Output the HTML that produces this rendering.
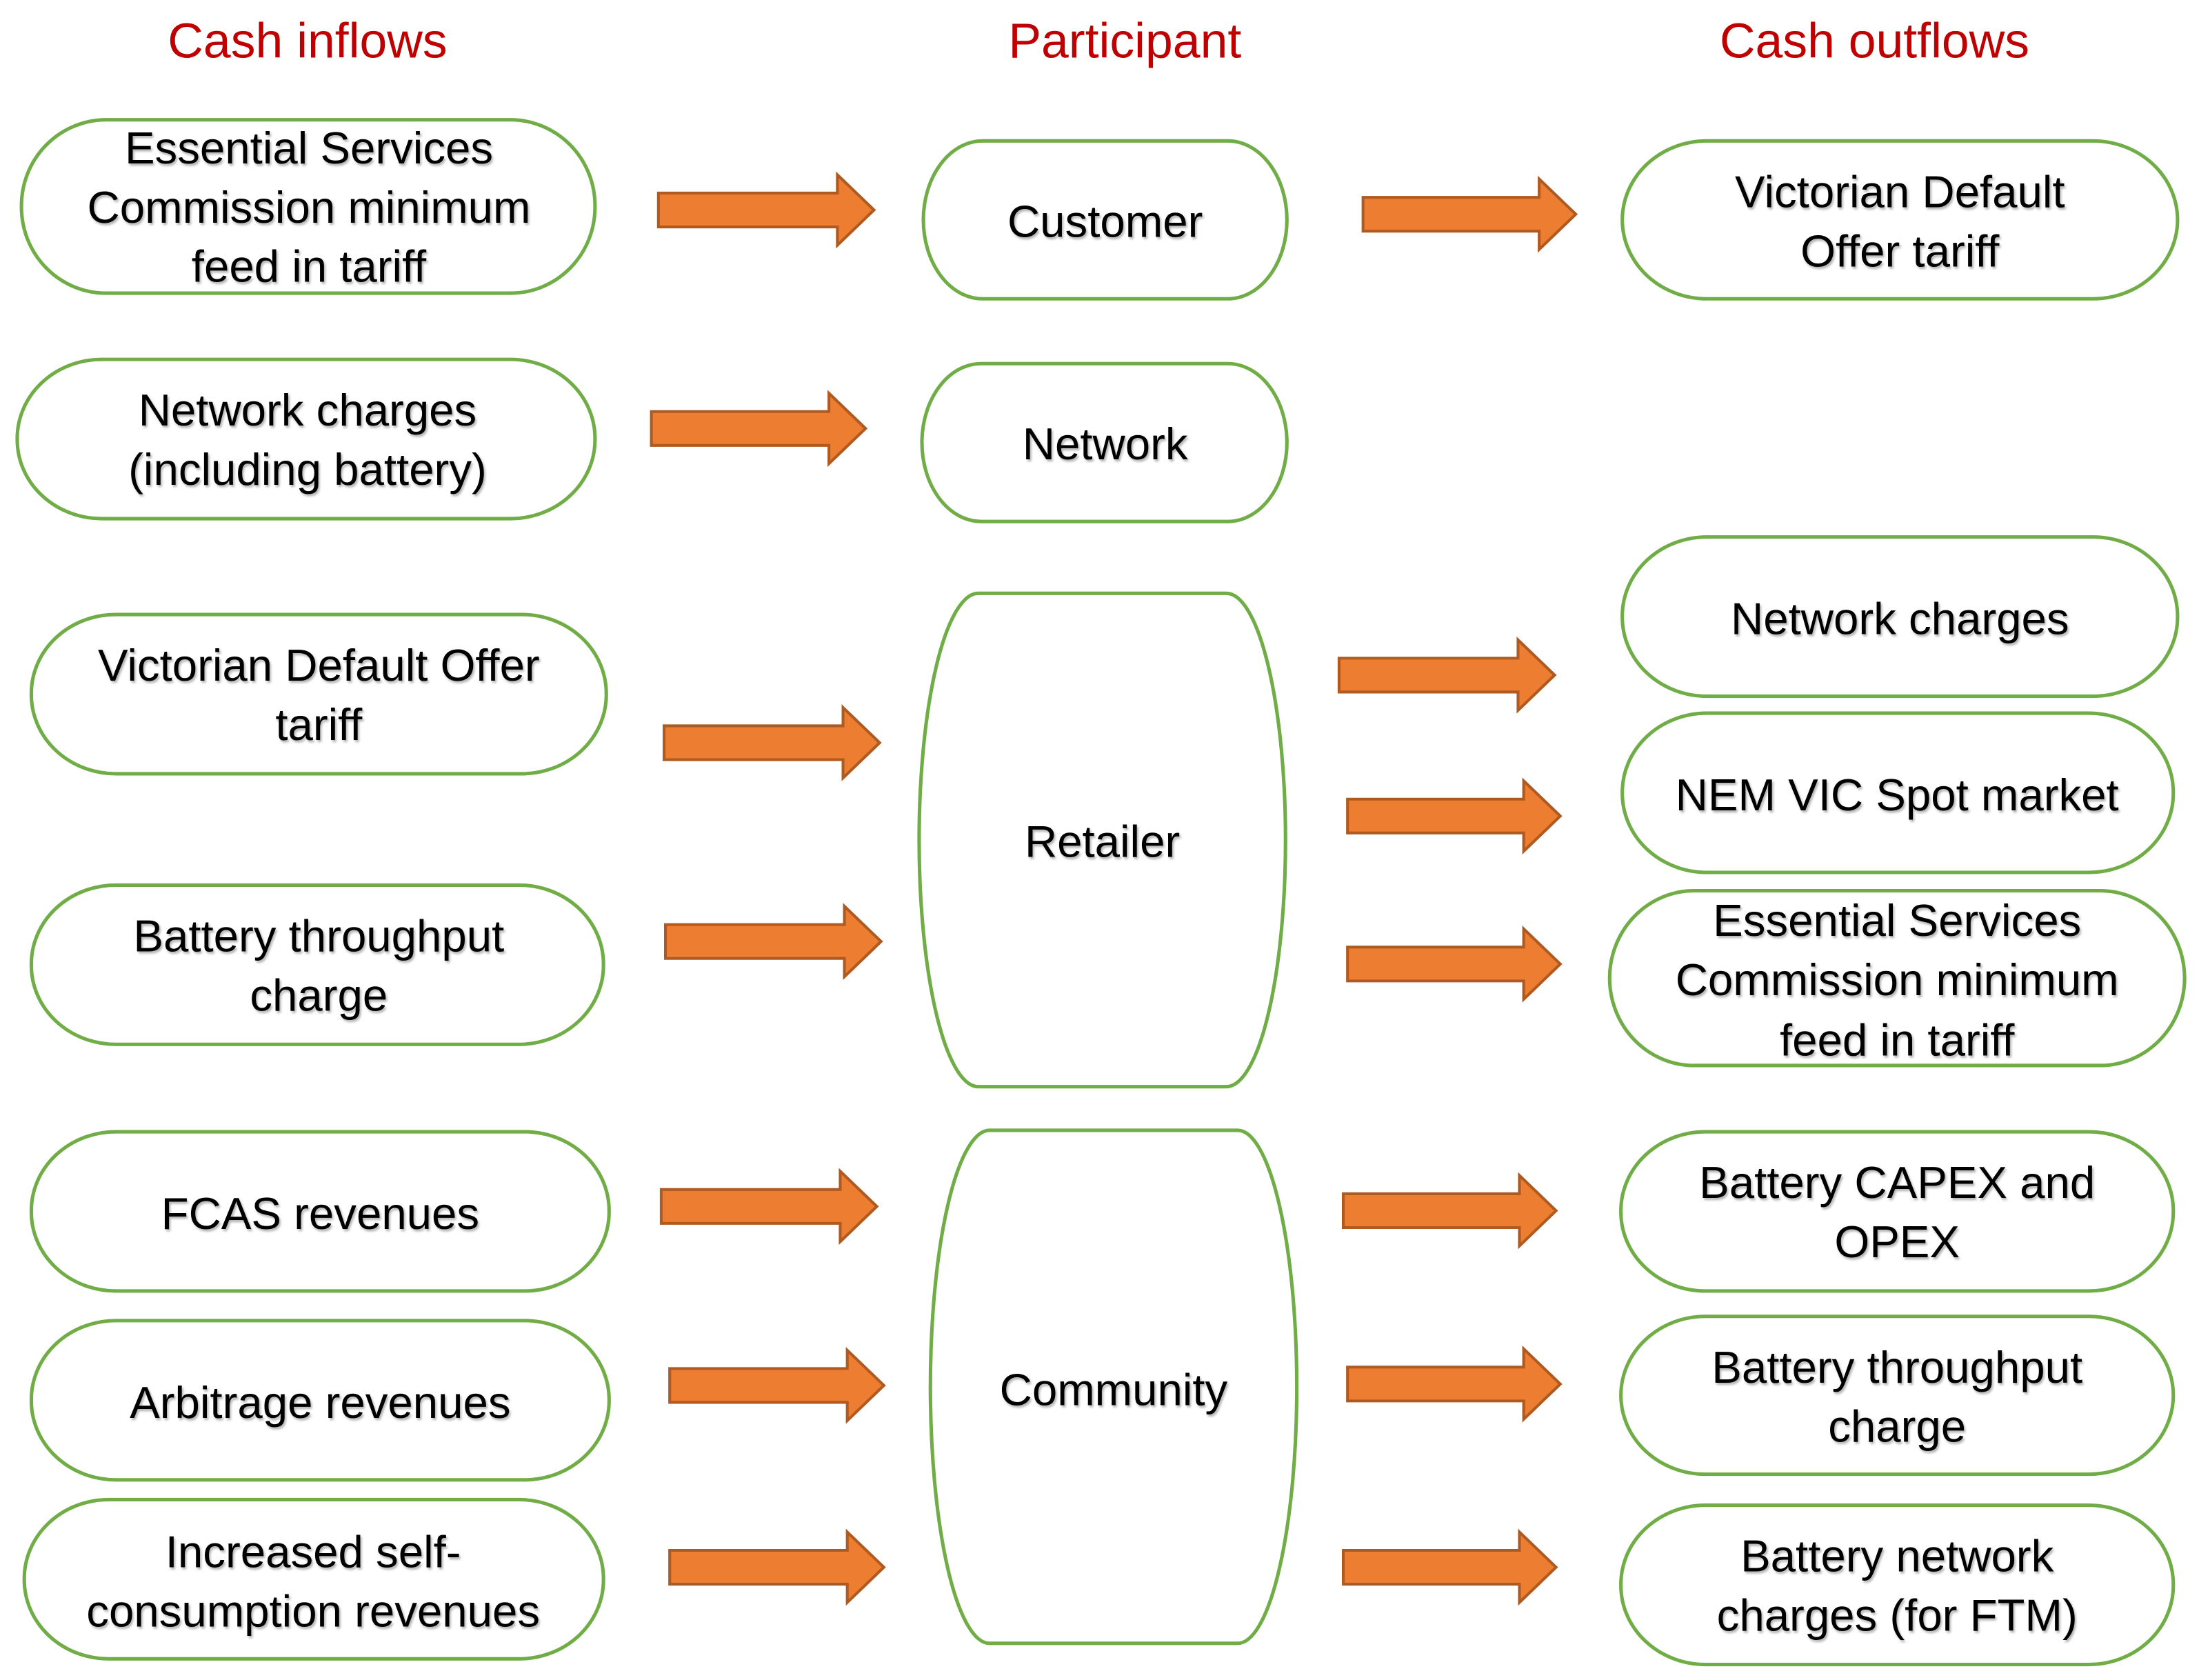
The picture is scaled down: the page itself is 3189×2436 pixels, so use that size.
<!DOCTYPE html>
<html><head><meta charset="utf-8"><style>
html,body{margin:0;padding:0;background:#fff}
svg{display:block}
text{font-family:"Liberation Sans",sans-serif;font-size:32px;fill:#000;text-anchor:middle;dominant-baseline:central}
.h{fill:#c00000;font-size:35px}
.n{fill:#fff;stroke:#70ad47;stroke-width:2.5}
.a{fill:#ed7d31;stroke:#ae5a21;stroke-width:2}
</style></head><body>
<svg width="3189" height="2436" viewBox="0 0 1560 1192" xmlns="http://www.w3.org/2000/svg">
<defs><filter id="s" x="-5%" y="-20%" width="110%" height="140%"><feDropShadow dx="1" dy="1.5" stdDeviation="0.8" flood-color="#000" flood-opacity="0.3"/></filter></defs>
<text class="h" x="218" y="29">Cash inflows</text>
<text class="h" x="798" y="29">Participant</text>
<text class="h" x="1330" y="29">Cash outflows</text>

<rect class="n" x="15" y="85" width="407" height="123" rx="60" ry="61"/>
<rect class="n" x="12" y="255" width="410" height="113" rx="60" ry="56"/>
<rect class="n" x="22" y="436" width="408" height="113" rx="60" ry="56"/>
<rect class="n" x="22" y="628" width="406" height="113" rx="60" ry="56"/>
<rect class="n" x="22" y="803" width="410" height="113" rx="60" ry="56"/>
<rect class="n" x="22" y="937" width="410" height="113" rx="60" ry="56"/>
<rect class="n" x="17" y="1064" width="411" height="113" rx="60" ry="56"/>
<rect class="n" x="655" y="100" width="258" height="112" rx="42" ry="56"/>
<rect class="n" x="654" y="258" width="259" height="112" rx="42" ry="56"/>
<rect class="n" x="652" y="421" width="260" height="350" rx="42" ry="175"/>
<rect class="n" x="660" y="802" width="260" height="364" rx="42" ry="182"/>
<rect class="n" x="1151" y="100" width="394" height="112" rx="60" ry="56"/>
<rect class="n" x="1151" y="381" width="394" height="113" rx="60" ry="56"/>
<rect class="n" x="1151" y="506" width="391" height="113" rx="60" ry="56"/>
<rect class="n" x="1142" y="632" width="408" height="124" rx="60" ry="62"/>
<rect class="n" x="1150" y="803" width="392" height="113" rx="60" ry="56"/>
<rect class="n" x="1150" y="934" width="392" height="112" rx="60" ry="56"/>
<rect class="n" x="1150" y="1068" width="392" height="113" rx="60" ry="56"/>

<g class="a">
<path class="a" d="M467,137 H594 V124 L620,149 L594,174 V161 H467 Z"/>
<path class="a" d="M462,292 H588 V279 L614,304 L588,329 V316 H462 Z"/>
<path class="a" d="M471,515 H598 V502 L624,527 L598,552 V539 H471 Z"/>
<path class="a" d="M472,656 H599 V643 L625,668 L599,693 V680 H472 Z"/>
<path class="a" d="M469,844 H596 V831 L622,856 L596,881 V868 H469 Z"/>
<path class="a" d="M475,971 H601 V958 L627,983 L601,1008 V995 H475 Z"/>
<path class="a" d="M475,1100 H601 V1087 L627,1112 L601,1137 V1124 H475 Z"/>
<path class="a" d="M967,140 H1092 V127 L1118,152 L1092,177 V164 H967 Z"/>
<path class="a" d="M950,467 H1077 V454 L1103,479 L1077,504 V491 H950 Z"/>
<path class="a" d="M956,567 H1081 V554 L1107,579 L1081,604 V591 H956 Z"/>
<path class="a" d="M956,672 H1081 V659 L1107,684 L1081,709 V696 H956 Z"/>
<path class="a" d="M953,847 H1078 V834 L1104,859 L1078,884 V871 H953 Z"/>
<path class="a" d="M956,970 H1081 V957 L1107,982 L1081,1007 V994 H956 Z"/>
<path class="a" d="M953,1100 H1078 V1087 L1104,1112 L1078,1137 V1124 H953 Z"/>
</g>

<g filter="url(#s)">
<text x="219" y="105">Essential Services</text>
<text x="219" y="147">Commission minimum</text>
<text x="219" y="189">feed in tariff</text>
<text x="218" y="291">Network charges</text>
<text x="218" y="333">(including battery)</text>
<text x="226" y="472">Victorian Default Offer</text>
<text x="226" y="514">tariff</text>
<text x="226" y="664">Battery throughput</text>
<text x="226" y="706">charge</text>
<text x="227" y="861">FCAS revenues</text>
<text x="227" y="995">Arbitrage revenues</text>
<text x="222" y="1101">Increased self-</text>
<text x="222" y="1143">consumption revenues</text>

<text x="784" y="157">Customer</text>
<text x="784" y="315">Network</text>
<text x="782" y="597">Retailer</text>
<text x="790" y="986">Community</text>

<text x="1348" y="136">Victorian Default</text>
<text x="1348" y="178">Offer tariff</text>
<text x="1348" y="439">Network charges</text>
<text x="1346" y="564">NEM VIC Spot market</text>
<text x="1346" y="653">Essential Services</text>
<text x="1346" y="695">Commission minimum</text>
<text x="1346" y="738">feed in tariff</text>
<text x="1346" y="839">Battery CAPEX and</text>
<text x="1346" y="881">OPEX</text>
<text x="1346" y="970">Battery throughput</text>
<text x="1346" y="1012">charge</text>
<text x="1346" y="1104">Battery network</text>
<text x="1346" y="1146">charges (for FTM)</text>
</g>
</svg>
</body></html>
